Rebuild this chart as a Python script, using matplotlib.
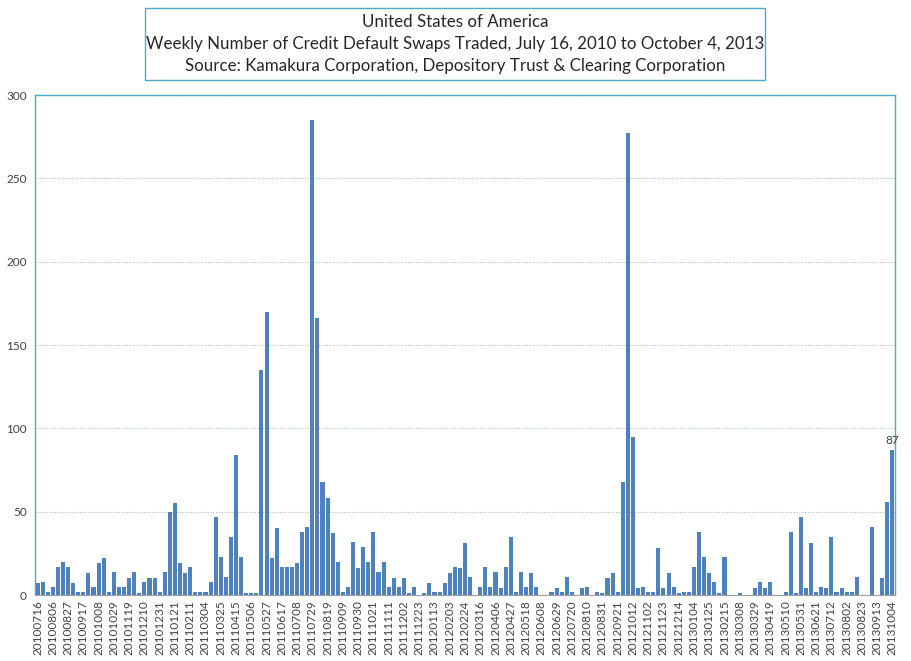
import matplotlib
matplotlib.use("Agg")
import matplotlib.pyplot as plt
from matplotlib.patches import Rectangle
import numpy as np
import datetime as dt

start = dt.date(2010, 7, 16)
values = [7, 8, 2, 5, 17, 20, 17, 7, 2, 2, 13, 5, 19, 22, 2, 14, 5,
          5, 10, 14, 1, 8, 10, 10, 2, 14, 50, 55, 19, 13, 17, 2, 2, 2,
          8, 47, 23, 11, 35, 84, 23, 1, 1, 1, 135, 170, 22, 40, 17, 17, 17,
          19, 38, 41, 285, 166, 68, 58, 37, 20, 2, 5, 32, 16, 29, 20, 38, 14, 20,
          5, 10, 5, 10, 1, 5, 0, 1, 7, 2, 2, 7, 13, 17, 16, 31, 11,
          0, 5, 17, 5, 14, 4, 17, 35, 2, 14, 5, 13, 5, 0, 0, 2, 4,
          2, 11, 2, 0, 4, 5, 0, 2, 1, 10, 13, 2, 68, 277, 95, 4, 5,
          2, 2, 28, 4, 13, 5, 1, 2, 2, 17, 38, 23, 13, 8, 1, 23, 0,
          0, 1, 0, 0, 4, 8, 4, 8, 0, 0, 2, 38, 1, 47, 4, 31, 2,
          5, 4, 35, 2, 4, 2, 2, 11, 0, 0, 41, 0, 10, 56, 87]
dates = [start + dt.timedelta(days=7 * i) for i in range(len(values))]
labels = [d.strftime("%Y%m%d") for d in dates]

title_lines = ["United States of America",
               "Weekly Number of Credit Default Swaps Traded, July 16, 2010 to October 4, 2013",
               "Source: Kamakura Corporation, Depository Trust & Clearing Corporation"]

plt.rcParams['font.family'] = ['Lato', 'DejaVu Sans']

W, H = 911, 661
fig = plt.figure(figsize=(W / 100, H / 100), dpi=100)
ax = fig.add_axes([35 / W, 66 / H, 860 / W, 500 / H])

x = np.arange(len(values))
ax.bar(x, values, width=0.8, color='#4F81BD', zorder=3)
ax.set_xlim(-0.5, len(values) - 0.5)
ax.set_ylim(0, 300)
ax.set_yticks(range(0, 301, 50))
ax.yaxis.grid(True, color='#A8BCC4', linestyle=(0, (1, 1.5)), linewidth=0.8, zorder=0)
ax.set_xticks(x[::3])
ax.set_xticklabels(labels[::3], rotation=90, fontsize=8.5, color='#404040')
ax.tick_params(axis='y', labelsize=8.5, colors='#404040', length=0, pad=6)
ax.tick_params(axis='x', length=0, pad=4)
for s in ['left', 'right', 'top']:
    ax.spines[s].set_color('#4BACC6')
    ax.spines[s].set_linewidth(1.0)
ax.spines['bottom'].set_color('#A0A0A0')

ax.annotate(str(values[-1]), (x[-1], values[-1]), xytext=(0, 3),
            textcoords='offset points', ha='center', va='bottom',
            fontsize=8.5, color='#404040')

fig.patches.append(Rectangle((145 / W, 1 - 80 / H), 620 / W, 72 / H,
                             transform=fig.transFigure, facecolor='white',
                             edgecolor='#4BACC6', linewidth=1.0, zorder=1))
fig.text(455 / W, 1 - 44 / H, "\n".join(title_lines), ha='center', va='center',
         fontsize=12.2, color='#262626', linespacing=1.45, zorder=2)

fig.savefig("out.png", dpi=100)
